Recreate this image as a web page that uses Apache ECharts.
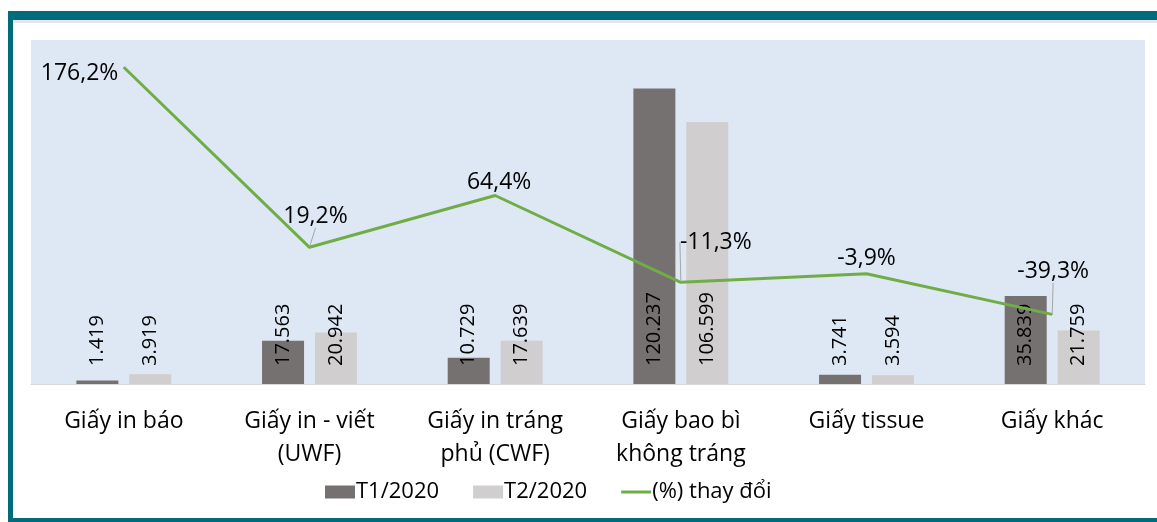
<!DOCTYPE html>
<html>
<head>
<meta charset="utf-8">
<script src="https://cdn.jsdelivr.net/npm/echarts@6/dist/echarts.min.js"></script>
<style>
  html, body { margin: 0; padding: 0; background: #fff; }
  #chart { width: 1157px; height: 522px; }
</style>
</head>
<body>
<div id="chart"></div>
<script>
// categories and values
const categories = ['Giấy in báo', 'Giấy in - viết\n(UWF)', 'Giấy in tráng\nphủ (CWF)', 'Giấy bao bì\nkhông tráng', 'Giấy tissue', 'Giấy khác'];
const t1Values = [1.419, 17.563, 10.729, 120.237, 3.741, 35.839];
const t2Values = [3.919, 20.942, 17.639, 106.599, 3.594, 21.759];
const pctChange = [176.2, 19.2, 64.4, -11.3, -3.9, -39.3];
const seriesNames = ['T1/2020', 'T2/2020', '(%) thay đổi'];

// label nudges for the % labels (dx, dy) + whether a leader line is drawn
const pctLabelShift = [[0, 6], [6, -14], [4, 4], [35, -23], [0, 2], [1, -26]];
const pctLeader = [false, true, false, true, false, true];

const FONT = '"Open Sans", "Noto Sans", sans-serif';
const teal = '#006b7a';

let chart = echarts.init(document.getElementById('chart'));

function fmtThousands(v) {
    return v.toFixed(3); // 120.237 style, dot as thousands sep
}
function fmtPct(v) {
    return v.toFixed(1).replace('.', ',') + '%';
}

let barLabel = {
    show: true,
    position: 'insideBottom',
    distance: 18,
    rotate: 90,
    align: 'left',
    verticalAlign: 'middle',
    color: '#000',
    fontFamily: FONT,
    fontSize: 20,
    formatter: p => fmtThousands(p.value)
};

let option = {
    backgroundColor: '#fff',
    animation: false,
    graphic: [
        // the cut-off excel frame around the chart
        { type: 'rect', shape: { x: 8, y: 11, width: 1149, height: 9 }, style: { fill: teal } },
        { type: 'rect', shape: { x: 8, y: 11, width: 5, height: 511 }, style: { fill: teal } },
        { type: 'rect', shape: { x: 8, y: 518, width: 1149, height: 4 }, style: { fill: teal } },
        { type: 'rect', shape: { x: 13, y: 20, width: 1144, height: 3 }, style: { fill: '#e4e4ea' } }
    ],
    legend: {
        bottom: 14,
        left: 320,
        itemGap: 34,
        itemWidth: 30,
        itemHeight: 13,
        textStyle: { fontFamily: FONT, fontSize: 22, color: '#000', padding: [0, 0, 0, -4] },
        data: [
            { name: seriesNames[0], icon: 'rect' },
            { name: seriesNames[1], icon: 'rect' },
            { name: seriesNames[2], icon: 'path://M0,0H30V3H0Z' }
        ]
    },
    grid: {
        left: 31,
        right: 12,
        top: 40,
        bottom: 138,
        show: true,
        backgroundColor: '#dde8f4',
        borderWidth: 0
    },
    xAxis: {
        type: 'category',
        data: categories,
        axisTick: { show: false },
        axisLine: { lineStyle: { color: '#d9d9d9', width: 1 } },
        axisLabel: {
            color: '#000',
            fontFamily: FONT,
            fontSize: 23,
            lineHeight: 33,
            margin: 21,
            interval: 0
        }
    },
    yAxis: [
        { type: 'value', min: 0, max: 140, show: false, splitLine: { show: false } },
        { type: 'value', min: -100, max: 200, show: false, splitLine: { show: false } }
    ],
    series: [
        {
            name: seriesNames[0],
            type: 'bar',
            data: t1Values,
            barWidth: 42,
            barGap: '26%',
            itemStyle: { color: '#767171' },
            label: barLabel
        },
        {
            name: seriesNames[1],
            type: 'bar',
            data: t2Values,
            barWidth: 42,
            itemStyle: { color: '#d0cece' },
            label: barLabel
        },
        {
            name: seriesNames[2],
            type: 'line',
            yAxisIndex: 1,
            data: pctChange.map((v, i) => ({
                value: v,
                label: i === 0 ? { position: 'left' } : {},
                labelLine: { show: pctLeader[i] }
            })),
            symbol: 'circle',
            symbolSize: 1,
            showSymbol: true,
            lineStyle: { color: '#70ad47', width: 3 },
            itemStyle: { color: '#70ad47' },
            label: {
                show: true,
                position: 'top',
                color: '#000',
                fontFamily: FONT,
                fontSize: 23,
                formatter: p => fmtPct(p.value)
            },
            labelLine: {
                show: true,
                lineStyle: { color: '#a6a6a6', width: 1 }
            },
            labelLayout: function (p) {
                let s = pctLabelShift[p.dataIndex] || [0, 0];
                return { dx: s[0], dy: s[1] };
            },
            z: 5
        }
    ]
};

chart.setOption(option);
</script>
</body>
</html>
